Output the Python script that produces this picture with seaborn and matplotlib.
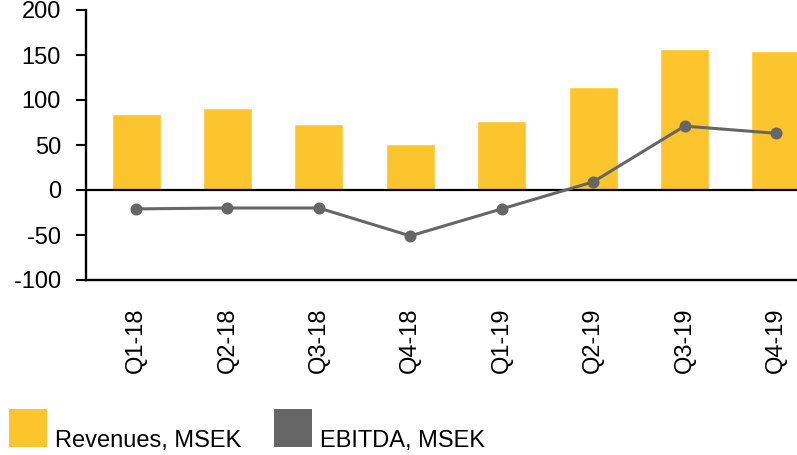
import matplotlib
matplotlib.use("Agg")
import matplotlib.pyplot as plt
from matplotlib.patches import Rectangle
import seaborn as sns
import pandas as pd

# ---- data ----
quarters = ["Q1-18", "Q2-18", "Q3-18", "Q4-18", "Q1-19", "Q2-19", "Q3-19", "Q4-19"]
revenues = [84, 91, 73, 51, 77, 114, 157, 154]
ebitda = [-21, -20, -20, -51, -21, 9, 71, 63]
series_names = ["Revenues, MSEK", "EBITDA, MSEK"]
y_ticks = [-100, -50, 0, 50, 100, 150, 200]

YELLOW = "#FCC42D"
GREY = "#666666"

df = pd.DataFrame({"quarter": quarters, "revenues": revenues, "ebitda": ebitda})

sns.set_theme(style="white")
plt.rcParams["font.family"] = ["Liberation Sans", "DejaVu Sans"]

W, H = 797, 455
fig = plt.figure(figsize=(W / 100, H / 100), dpi=100)

def fx(px):
    return px / W

def fy(py):
    return (H - py) / H

ax = fig.add_axes([fx(86), fy(280), fx(797) - fx(86), fy(10) - fy(280)])

sns.barplot(data=df, x="quarter", y="revenues", color=YELLOW, width=0.536,
            saturation=1, ax=ax, zorder=2)
sns.pointplot(data=df, x="quarter", y="ebitda", color=GREY, markers="o",
              markersize=7, linewidth=2.2, ax=ax, zorder=4)

ax.axhline(0, color="black", linewidth=1.6, zorder=3)

ax.set_ylim(-100, 200)
ax.set_xlim(-0.547, 7.23)
ax.set_yticks(y_ticks)
ax.set_yticklabels([str(v) for v in y_ticks])
ax.set_xlabel("")
ax.set_ylabel("")

for s in ["top", "right"]:
    ax.spines[s].set_visible(False)
for s in ["left", "bottom"]:
    ax.spines[s].set_visible(True)
    ax.spines[s].set_color("black")
    ax.spines[s].set_linewidth(1.7)

ax.tick_params(axis="y", which="both", left=True, length=7, width=1.5,
               color="black", pad=11, labelsize=17, labelcolor="black")
ax.tick_params(axis="x", which="both", bottom=False, length=0, pad=20,
               labelsize=17, labelcolor="black", labelrotation=90)
for lab in ax.get_xticklabels():
    lab.set_verticalalignment("top")
    lab.set_horizontalalignment("center")

# ---- legend (manual) ----
legend_items = [(series_names[0], YELLOW, 9, 55), (series_names[1], GREY, 274, 320)]
for name, col, sx, tx in legend_items:
    fig.patches.append(Rectangle((fx(sx), fy(447)), fx(38), fy(409) - fy(447),
                                 transform=fig.transFigure, facecolor=col,
                                 edgecolor="none", figure=fig))
    fig.text(fx(tx), fy(447), name, fontsize=17, color="black",
             ha="left", va="baseline")

fig.savefig("out.png", dpi=100, facecolor="white")
